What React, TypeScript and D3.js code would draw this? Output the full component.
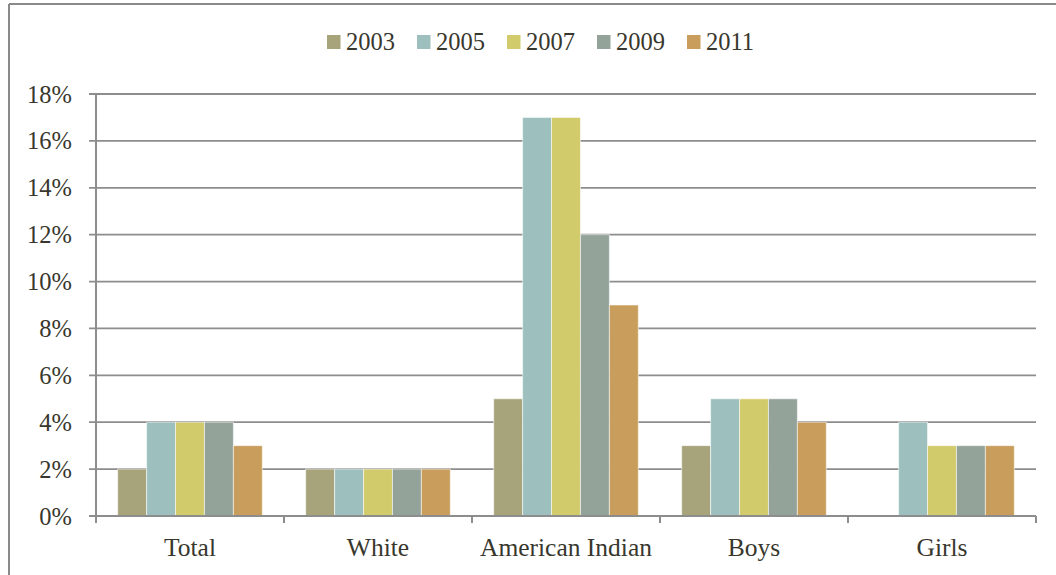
import React from "react";
import * as d3 from "d3";

const categories = ["Total", "White", "American Indian", "Boys", "Girls"];
const years = ["2003", "2005", "2007", "2009", "2011"];
const values2003: (number | null)[] = [2, 2, 5, 3, null];
const values2005: (number | null)[] = [4, 2, 17, 5, 4];
const values2007: (number | null)[] = [4, 2, 17, 5, 3];
const values2009: (number | null)[] = [4, 2, 12, 5, 3];
const values2011: (number | null)[] = [3, 2, 9, 4, 3];
const yTicks = [0, 2, 4, 6, 8, 10, 12, 14, 16, 18];
const colors = ["#A7A37A", "#9DBFBE", "#D2CB6C", "#93A39A", "#C99D5C"];

const series = [values2003, values2005, values2007, values2009, values2011];

export default function App() {
  const W = 1056;
  const H = 575;
  const left = 96;
  const right = 1036;
  const top = 94;
  const bottom = 516;
  const font = "Liberation Serif";
  const textColor = "#38372d";
  const gridColor = "#8d8d8d";

  const x0 = d3.scaleBand<string>().domain(categories).range([left, right]).paddingInner(0).paddingOuter(0);
  const bw = x0.bandwidth();
  const barW = bw / (years.length + 1.5);
  const groupOffset = (bw - barW * years.length) / 2;
  const y = d3.scaleLinear().domain([0, 18]).range([bottom, top]);

  const legendStart = 327;
  const legendStep = 90;

  return (
    <svg width={W} height={H} style={{ position: "absolute", left: 0, top: 0, background: "#fff" }}>
      <rect x={0} y={0} width={W} height={H} fill="#fff" />
      <line x1={9} y1={4} x2={W} y2={4} stroke="#8a8a8a" strokeWidth={2} />
      <line x1={9} y1={4} x2={9} y2={H} stroke="#8a8a8a" strokeWidth={2} />

      {yTicks.map((t) => (
        <g key={t}>
          <line x1={left - 7} x2={right} y1={y(t)} y2={y(t)} stroke={gridColor} strokeWidth={t === 0 ? 2 : 1.8} />
          <text x={72} y={y(t)} dy="0.35em" textAnchor="end" fontFamily={font} fontSize={24.5} fill={textColor}>
            {t}%
          </text>
        </g>
      ))}

      {categories.map((c, ci) =>
        series.map((s, si) => {
          const v = s[ci];
          if (v === null) return null;
          const bx = (x0(c) as number) + groupOffset + si * barW;
          return (
            <rect key={c + si} x={bx} y={y(v)} width={barW} height={y(0) - y(v)} fill={colors[si]} stroke="#ffffff" strokeOpacity={0.55} strokeWidth={1} />
          );
        })
      )}

      <line x1={left} x2={left} y1={top} y2={bottom + 7} stroke={gridColor} strokeWidth={2} />
      <line x1={left} x2={right} y1={bottom} y2={bottom} stroke={gridColor} strokeWidth={2} />
      {categories.map((c, i) => (
        <line key={"t" + i} x1={x0(c) as number} x2={x0(c) as number} y1={bottom} y2={bottom + 7} stroke={gridColor} strokeWidth={2} />
      ))}
      <line x1={right} x2={right} y1={bottom} y2={bottom + 7} stroke={gridColor} strokeWidth={2} />

      {categories.map((c) => (
        <text key={"l" + c} x={(x0(c) as number) + bw / 2} y={556} textAnchor="middle" fontFamily={font} fontSize={25.5} fill={textColor}>
          {c}
        </text>
      ))}

      {years.map((yr, i) => (
        <g key={yr} transform={`translate(${legendStart + i * legendStep},0)`}>
          <rect x={0} y={35} width={13.5} height={14} fill={colors[i]} />
          <text x={19} y={50} fontFamily={font} fontSize={24.5} fill={textColor}>
            {yr}
          </text>
        </g>
      ))}
    </svg>
  );
}
